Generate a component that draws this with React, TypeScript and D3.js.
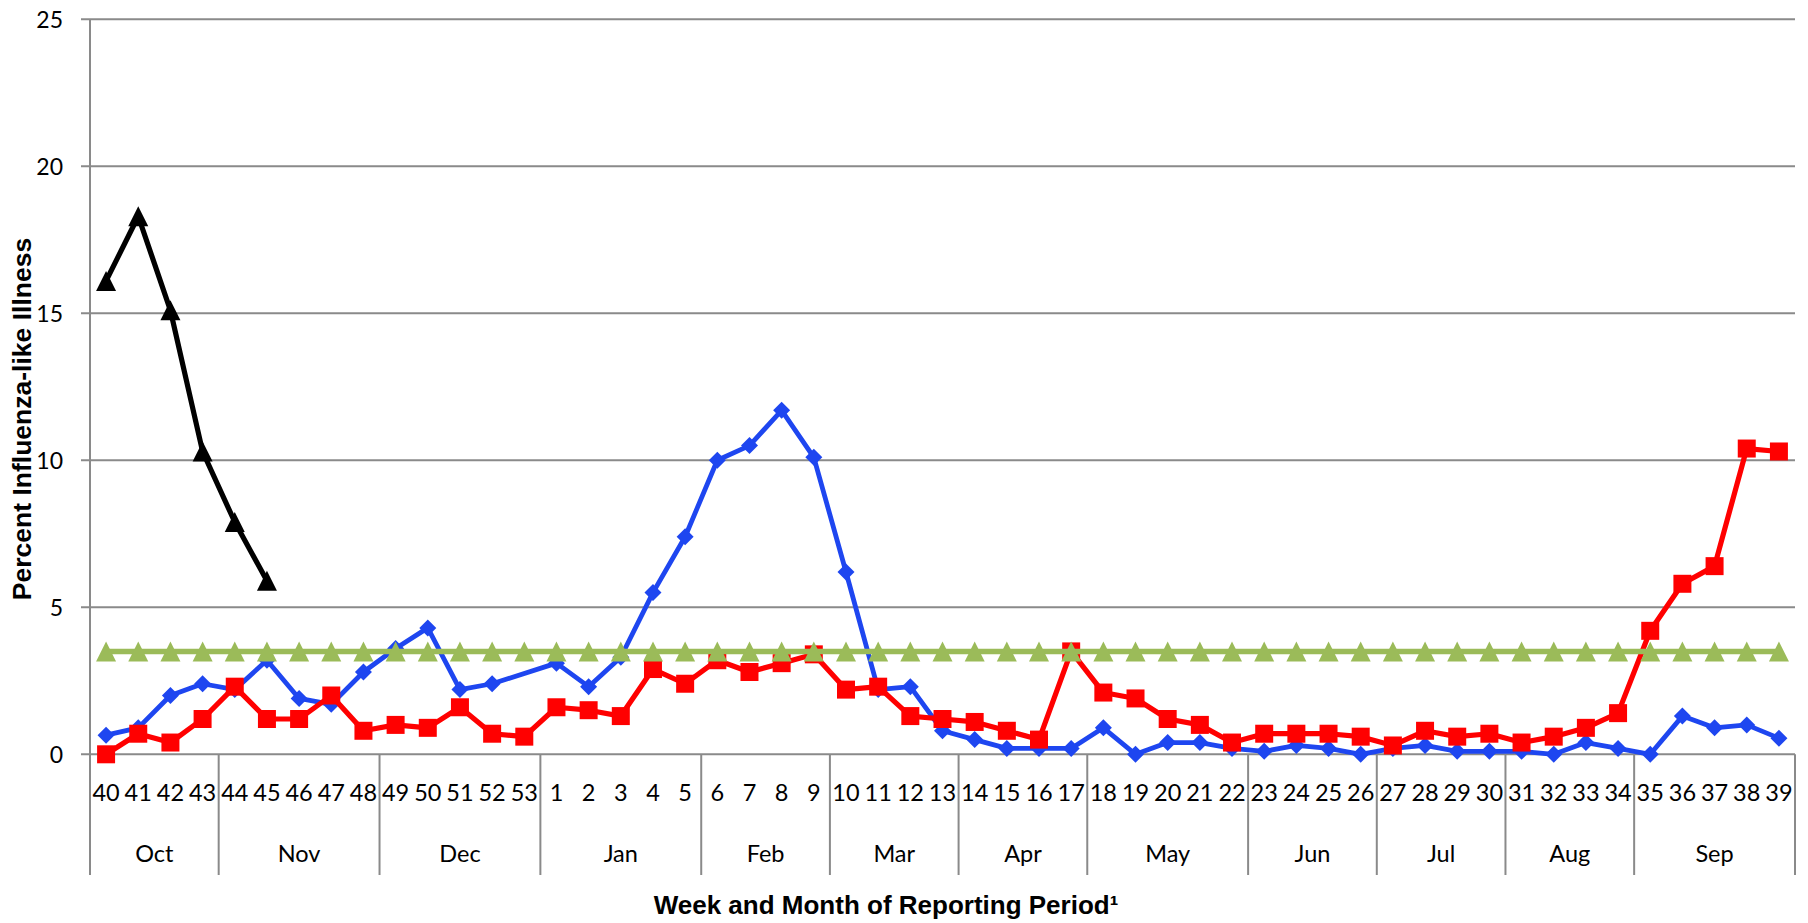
import React from 'react';
import * as d3 from 'd3';

const weeks = [
  '40', '41', '42', '43', '44', '45', '46', '47', '48', '49', '50', '51', '52', '53',
  '1', '2', '3', '4', '5', '6', '7', '8', '9', '10', '11', '12', '13', '14', '15', '16', '17',
  '18', '19', '20', '21', '22', '23', '24', '25', '26', '27', '28', '29', '30', '31', '32',
  '33', '34', '35', '36', '37', '38', '39',
];

const months = ['Oct', 'Nov', 'Dec', 'Jan', 'Feb', 'Mar', 'Apr', 'May', 'Jun', 'Jul', 'Aug', 'Sep'];
const monthStartWeeks = ['40', '44', '49', '1', '6', '10', '14', '18', '23', '27', '31', '35'];

// blue diamonds (previous season)
const prevSeason = [
  0.65, 0.9, 2.0, 2.4, 2.2, 3.2, 1.9, 1.7, 2.8, 3.6, 4.3, 2.2, 2.4, null,
  3.1, 2.3, 3.3, 5.5, 7.4, 10.0, 10.5, 11.7, 10.1, 6.2, 2.2, 2.3, 0.8, 0.5, 0.2, 0.2, 0.2,
  0.9, 0, 0.4, 0.4, 0.2, 0.1, 0.3, 0.2, 0, 0.2, 0.3, 0.1, 0.1, 0.1, 0,
  0.4, 0.2, 0, 1.3, 0.9, 1.0, 0.55,
];

// red squares
const otherSeason = [
  0, 0.7, 0.4, 1.2, 2.3, 1.2, 1.2, 2.0, 0.8, 1.0, 0.9, 1.6, 0.7, 0.6,
  1.6, 1.5, 1.3, 2.9, 2.4, 3.2, 2.8, 3.1, 3.4, 2.2, 2.3, 1.3, 1.2, 1.1, 0.8, 0.5, 3.5,
  2.1, 1.9, 1.2, 1.0, 0.4, 0.7, 0.7, 0.7, 0.6, 0.3, 0.8, 0.6, 0.7, 0.4, 0.6,
  0.9, 1.4, 4.2, 5.8, 6.4, 10.4, 10.3,
];

// black triangles (current season, so far)
const currentSeason = [16.1, 18.3, 15.1, 10.3, 7.9, 5.9];

// green triangles (baseline)
const baseline = [
  3.5, 3.5, 3.5, 3.5, 3.5, 3.5, 3.5, 3.5, 3.5, 3.5, 3.5, 3.5, 3.5, 3.5,
  3.5, 3.5, 3.5, 3.5, 3.5, 3.5, 3.5, 3.5, 3.5, 3.5, 3.5, 3.5, 3.5, 3.5, 3.5, 3.5, 3.5,
  3.5, 3.5, 3.5, 3.5, 3.5, 3.5, 3.5, 3.5, 3.5, 3.5, 3.5, 3.5, 3.5, 3.5, 3.5,
  3.5, 3.5, 3.5, 3.5, 3.5, 3.5, 3.5,
];

const yTicks = [0, 5, 10, 15, 20, 25];

const W = 1808;
const H = 923;
const left = 90;
const right = 1795;
const top = 19.3;
const bottom = 754.3;
const axisBottom = 875;

const gridColor = '#8a8a8a';
const tickFont = 'Lato, "Open Sans", sans-serif';
const titleFont = '"Liberation Sans", Arial, sans-serif';

const diamond = (s: number) => `M0,${-s / 2}L${s / 2},0L0,${s / 2}L${-s / 2},0Z`;
const square = (s: number) => `M${-s / 2},${-s / 2}h${s}v${s}h${-s}Z`;
const triangle = (s: number) => `M0,${-s / 2}L${s / 2},${s / 2}L${-s / 2},${s / 2}Z`;

export default function App() {
  const x = d3.scaleBand<string>().domain(weeks).range([left, right]);
  const y = d3.scaleLinear().domain([0, 25]).range([bottom, top]);
  const cx = (w: string) => (x(w) as number) + x.bandwidth() / 2;

  const toPts = (vals: (number | null)[]) =>
    vals
      .map((v, i) => ({ w: weeks[i], v }))
      .filter((d) => d.v !== null && d.v !== undefined) as { w: string; v: number }[];

  const line = d3
    .line<{ w: string; v: number }>()
    .x((d) => cx(d.w))
    .y((d) => y(d.v));

  const series = [
    { pts: toPts(prevSeason), color: '#1e46f0', width: 4.8, marker: diamond(17) },
    { pts: toPts(otherSeason), color: '#ff0000', width: 5.2, marker: square(18) },
    { pts: toPts(currentSeason), color: '#000000', width: 5.2, marker: triangle(20) },
    { pts: toPts(baseline), color: '#9bbb59', width: 5.5, marker: triangle(20) },
  ];

  const monthEdges = monthStartWeeks.map((w) => x(w) as number).concat([right]);

  return (
    <svg
      width={W}
      height={H}
      style={{ position: 'absolute', left: 0, top: 0, background: '#fff' }}
    >
      <rect x={0} y={0} width={W} height={H} fill="#fff" />
      {/* gridlines and y ticks */}
      {yTicks.map((t) => (
        <g key={t}>
          <line x1={81} x2={right} y1={y(t)} y2={y(t)} stroke={gridColor} strokeWidth={2} />
          <text
            x={63}
            y={y(t)}
            textAnchor="end"
            dominantBaseline="central"
            fontFamily={tickFont}
            fontSize={23}
            fill="#000"
          >
            {t}
          </text>
        </g>
      ))}
      {/* y axis */}
      <line x1={left} x2={left} y1={top} y2={axisBottom} stroke={gridColor} strokeWidth={2} />
      {/* month separators */}
      {monthEdges.map((ex, i) => (
        <line key={i} x1={ex} x2={ex} y1={bottom} y2={axisBottom} stroke={gridColor} strokeWidth={2} />
      ))}
      {/* week labels */}
      {weeks.map((w) => (
        <text
          key={w}
          x={cx(w)}
          y={792}
          textAnchor="middle"
          dominantBaseline="central"
          fontFamily={tickFont}
          fontSize={23.5}
          fill="#000"
        >
          {w}
        </text>
      ))}
      {/* month labels */}
      {months.map((m, i) => (
        <text
          key={m}
          x={(monthEdges[i] + monthEdges[i + 1]) / 2}
          y={853}
          textAnchor="middle"
          dominantBaseline="central"
          fontFamily={tickFont}
          fontSize={23.5}
          fill="#000"
        >
          {m}
        </text>
      ))}
      {/* series */}
      {series.map((s, i) => (
        <g key={i}>
          <path
            d={line(s.pts) || ''}
            fill="none"
            stroke={s.color}
            strokeWidth={s.width}
            strokeLinejoin="round"
          />
          {s.pts.map((d) => (
            <path
              key={d.w}
              d={s.marker}
              transform={`translate(${cx(d.w)},${y(d.v)})`}
              fill={s.color}
            />
          ))}
        </g>
      ))}
      {/* axis titles */}
      <text
        x={886}
        y={914}
        textAnchor="middle"
        fontFamily={titleFont}
        fontWeight="bold"
        fontSize={26}
        fill="#000"
      >
        Week and Month of Reporting Period¹
      </text>
      <text
        transform="translate(22,419) rotate(-90)"
        textAnchor="middle"
        dominantBaseline="central"
        fontFamily={titleFont}
        fontWeight="bold"
        fontSize={26.5}
        fill="#000"
      >
        Percent Influenza-like Illness
      </text>
    </svg>
  );
}
